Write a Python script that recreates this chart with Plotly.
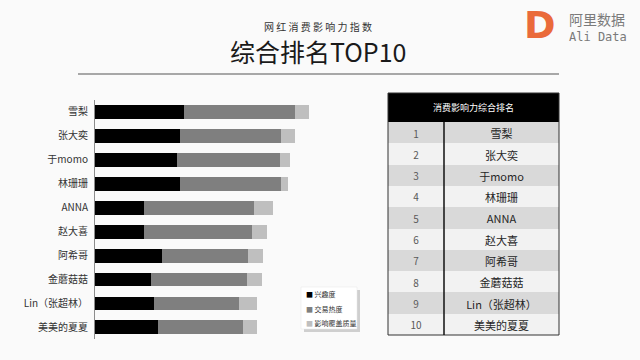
import plotly.graph_objects as go

names = ["雪梨", "张大奕", "于momo", "林珊珊", "ANNA", "赵大喜", "阿希哥", "金蘑菇菇", "Lin（张超林）", "美美的夏夏"]
table_names = ["雪梨", "张大奕", "于momo", "林珊珊", "ANNA", "赵大喜", "阿希哥", "金蘑菇菇", "Lin（张超林）", "美美的夏夏"]
ranks = [str(i) for i in range(1, 11)]
series_names = ["兴趣度", "交易热度", "影响覆盖质量"]
interest = [89, 85, 82, 85, 49, 49, 67, 56, 59, 63]
trade = [111, 101, 103, 101, 110, 108, 86, 96, 85, 85]
coverage = [14, 14, 10, 7, 19, 15, 15, 15, 18, 14]
colors = ["#000000", "#7f7f7f", "#bfbfbf"]
table_title = "消费影响力综合排名"

W, H = 640, 360
FONT = "Noto Sans CJK SC"

fig = go.Figure()
for vals, nm, c in zip([interest, trade, coverage], series_names, colors):
    fig.add_trace(go.Bar(y=names, x=vals, orientation="h", name=nm,
                         marker=dict(color=c, line=dict(width=0)), showlegend=False))

# table
row_fill = ["#d9d9d9" if i % 2 == 0 else "#f2f2f2" for i in range(len(ranks))]
fig.add_trace(go.Table(
    domain=dict(x=[388 / W, 559 / W], y=[1 - 335 / H, 1 - 93 / H]),
    columnwidth=[56, 115],
    header=dict(values=["", ""], fill_color="#000000",
                line=dict(color="#000000", width=0),
                font=dict(color="white", size=9, family=FONT), height=29, align="center"),
    cells=dict(values=[ranks, table_names], fill_color=[row_fill, row_fill],
               line=dict(color=[row_fill, row_fill], width=0),
               font=dict(color=["#595959", "#262626"], size=[10, 11], family=FONT),
               height=21.3, align="center"),
))

shapes = []
# table borders
shapes.append(dict(type="rect", xref="paper", yref="paper", x0=388 / W, x1=559 / W,
                   y0=1 - 335 / H, y1=1 - 93 / H, line=dict(color="#333333", width=1)))
shapes.append(dict(type="line", xref="paper", yref="paper", x0=444 / W, x1=444 / W,
                   y0=1 - 335 / H, y1=1 - 122 / H, line=dict(color="#111111", width=1.5)))
# legend box with shadow
shapes.append(dict(type="rect", xref="paper", yref="paper", x0=304 / W, x1=360 / W,
                   y0=1 - 332 / H, y1=1 - 290 / H, fillcolor="#cfcfcf", line=dict(width=0), layer="below"))
shapes.append(dict(type="rect", xref="paper", yref="paper", x0=301 / W, x1=357 / W,
                   y0=1 - 329 / H, y1=1 - 287 / H, fillcolor="#ffffff", line=dict(color="#e6e6e6", width=0.5), layer="below"))
# separator under title
shapes.append(dict(type="line", xref="paper", yref="paper", x0=78 / W, x1=559 / W,
                   y0=1 - 74 / H, y1=1 - 74 / H, line=dict(color="#555555", width=1)))

annotations = [
    dict(text="网 红 消 费 影 响 力 指 数", x=318 / W, y=1 - 27 / H, xref="paper", yref="paper",
         showarrow=False, font=dict(size=10, color="#333333", family=FONT), xanchor="center", yanchor="middle"),
    dict(text="综合排名TOP10", x=318 / W, y=1 - 51 / H, xref="paper", yref="paper",
         showarrow=False, font=dict(size=25, color="#1a1a1a", family=FONT), xanchor="center", yanchor="middle"),
    dict(text="<b>D</b>", x=540 / W, y=1 - 25 / H, xref="paper", yref="paper",
         showarrow=False, font=dict(size=38, color="#ea6a3a", family="DejaVu Sans"), xanchor="center", yanchor="middle"),
    dict(text="阿里数据", x=567 / W, y=1 - 19 / H, xref="paper", yref="paper",
         showarrow=False, font=dict(size=14, color="#7a7a7a", family=FONT), xanchor="left", yanchor="middle"),
    dict(text="Ali Data", x=567 / W, y=1 - 37 / H, xref="paper", yref="paper",
         showarrow=False, font=dict(size=12, color="#7a7a7a", family="DejaVu Sans Mono"), xanchor="left", yanchor="middle"),
    dict(text=table_title, x=473 / W, y=1 - 107 / H, xref="paper", yref="paper",
         showarrow=False, font=dict(size=9, color="#ffffff", family=FONT), xanchor="center", yanchor="middle"),
]
for i, (nm, c) in enumerate(zip(series_names, colors)):
    annotations.append(dict(text=f"<span style='color:{c}'>■</span> {nm}", x=304 / W,
                            y=1 - (294 + i * 14.5) / H, xref="paper", yref="paper", showarrow=False,
                            font=dict(size=7, color="#333333", family=FONT), xanchor="left", yanchor="middle"))

fig.update_layout(
    width=W, height=H, margin=dict(l=0, r=0, t=0, b=0),
    paper_bgcolor="#fafafa", plot_bgcolor="rgba(0,0,0,0)",
    barmode="stack", bargap=0.42,
    font=dict(family=FONT, color="#333333"),
    xaxis=dict(domain=[95 / W, 345 / W], range=[0, 250], visible=False),
    yaxis=dict(domain=[1 - 339.4 / H, 1 - 100 / H], autorange="reversed", showline=True,
               linecolor="#8c8c8c", linewidth=1, ticks="", showgrid=False, zeroline=False,
               tickfont=dict(size=10, color="#333333", family=FONT), ticklabelstandoff=4),
    shapes=shapes, annotations=annotations,
)
fig.write_html("out.html")
